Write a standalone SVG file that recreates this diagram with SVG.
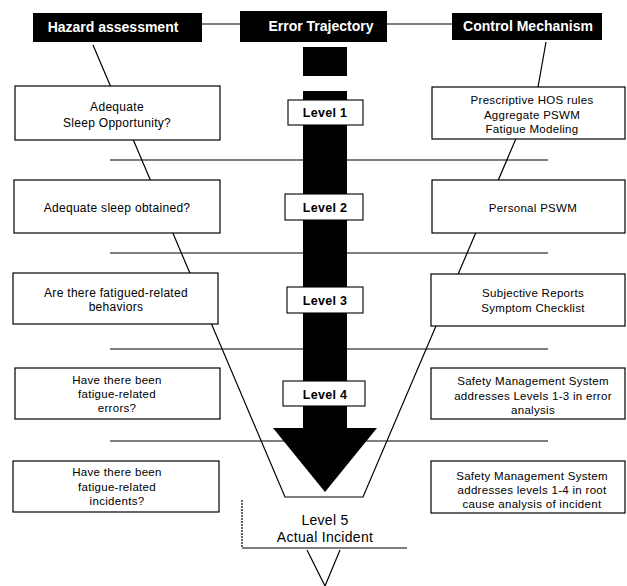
<svg xmlns="http://www.w3.org/2000/svg" width="627" height="586" viewBox="0 0 627 586">
  <style>
    .hdr { fill: #000; }
    .hdr-t { fill: #fff; font-family: "Liberation Sans", Arial, sans-serif; font-weight: bold; font-size: 14px; text-anchor: middle; }
    .box { fill: #fff; stroke: #000; stroke-width: 1.2; }
    .lvl { fill: #fff; stroke: #000; stroke-width: 1.1; }
    .t { fill: #000; font-family: "Liberation Sans", Arial, sans-serif; font-size: 11.5px; text-anchor: middle; letter-spacing: 0.3px; }
    .tl { fill: #000; font-family: "Liberation Sans", Arial, sans-serif; font-size: 12px; text-anchor: middle; letter-spacing: 0.3px; }
    .lv { fill: #000; font-family: "Liberation Sans", Arial, sans-serif; font-weight: bold; font-size: 12.5px; text-anchor: middle; letter-spacing: 0.3px; }
    .l5 { fill: #000; font-family: "Liberation Sans", Arial, sans-serif; font-size: 14px; text-anchor: middle; letter-spacing: 0.3px; }
    .ln { stroke: #000; stroke-width: 1.2; fill: none; }
  </style>

  <rect width="627" height="586" fill="#fff"/>

  <!-- connectors: header links, funnel sides, level dividers -->
  <g id="connectors">
    <line class="ln" x1="202" y1="24" x2="240" y2="24"/>
    <line class="ln" x1="387" y1="24" x2="452" y2="24"/>
    <line class="ln" x1="110" y1="160" x2="548" y2="160"/>
    <line class="ln" x1="110" y1="253" x2="548" y2="253"/>
    <line class="ln" x1="110" y1="349" x2="548" y2="349"/>
    <line class="ln" x1="110" y1="441" x2="548" y2="441"/>
    <polyline class="ln" points="93,45 285,497 363,497 538,87 546,42"/>
    <line class="ln" x1="242" y1="500" x2="242" y2="548" stroke-dasharray="2 1"/>
    <line class="ln" x1="242" y1="548" x2="407" y2="548"/>
    <polyline class="ln" points="307,550 325,586 340,550"/>
  </g>

  <!-- error trajectory arrow -->
  <g id="trajectory-arrow" fill="#000">
    <rect x="303" y="47" width="44" height="29"/>
    <rect x="303" y="91" width="44" height="8"/>
    <rect x="303" y="99" width="44" height="330"/>
    <polygon points="273,428 377,428 325,492"/>
  </g>

  <!-- column headers -->
  <g id="hazard-header">
    <rect class="hdr" x="33" y="13" width="169" height="29"/>
    <text class="hdr-t" x="113" y="32">Hazard assessment</text>
  </g>
  <g id="error-header">
    <rect class="hdr" x="240" y="11" width="147" height="31"/>
    <text class="hdr-t" x="321" y="31">Error Trajectory</text>
  </g>
  <g id="control-header">
    <rect class="hdr" x="452" y="13" width="150" height="27"/>
    <text class="hdr-t" x="528" y="31">Control Mechanism</text>
  </g>

  <!-- hazard assessment questions -->
  <g id="hazard-1">
    <rect class="box" x="15" y="86" width="205" height="54"/>
    <text class="tl" x="117" y="111">Adequate</text>
    <text class="tl" x="117" y="127">Sleep Opportunity?</text>
  </g>
  <g id="hazard-2">
    <rect class="box" x="14" y="180" width="206" height="53"/>
    <text class="tl" x="117" y="212">Adequate sleep obtained?</text>
  </g>
  <g id="hazard-3">
    <rect class="box" x="13" y="273" width="205" height="51"/>
    <text class="tl" x="116" y="297">Are there fatigued-related</text>
    <text class="tl" x="116" y="311">behaviors</text>
  </g>
  <g id="hazard-4">
    <rect class="box" x="15" y="368" width="205" height="51"/>
    <text class="t" x="117" y="384">Have there been</text>
    <text class="t" x="117" y="398">fatigue-related</text>
    <text class="t" x="117" y="412">errors?</text>
  </g>
  <g id="hazard-5">
    <rect class="box" x="13" y="461" width="206" height="51"/>
    <text class="t" x="117" y="476">Have there been</text>
    <text class="t" x="117" y="491">fatigue-related</text>
    <text class="t" x="117" y="505">incidents?</text>
  </g>

  <!-- trajectory levels -->
  <g id="level-1">
    <rect class="lvl" x="288" y="100" width="75" height="25"/>
    <text class="lv" x="325" y="117">Level 1</text>
  </g>
  <g id="level-2">
    <rect class="lvl" x="285" y="194" width="78" height="26"/>
    <text class="lv" x="325" y="212">Level 2</text>
  </g>
  <g id="level-3">
    <rect class="lvl" x="287" y="287" width="76" height="26"/>
    <text class="lv" x="325" y="305">Level 3</text>
  </g>
  <g id="level-4">
    <rect class="lvl" x="283" y="381" width="82" height="25"/>
    <text class="lv" x="325" y="399">Level 4</text>
  </g>
  <g id="level-5">
    <text class="l5" x="325" y="525">Level 5</text>
    <text class="l5" x="325" y="542">Actual Incident</text>
  </g>

  <!-- control mechanisms -->
  <g id="control-1">
    <rect class="box" x="432" y="87" width="193" height="52"/>
    <text class="t" x="532" y="104">Prescriptive HOS rules</text>
    <text class="t" x="532" y="119">Aggregate PSWM</text>
    <text class="t" x="532" y="133">Fatigue Modeling</text>
  </g>
  <g id="control-2">
    <rect class="box" x="432" y="180" width="193" height="53"/>
    <text class="t" x="533" y="212">Personal PSWM</text>
  </g>
  <g id="control-3">
    <rect class="box" x="431" y="274" width="194" height="52"/>
    <text class="t" x="533" y="297">Subjective Reports</text>
    <text class="t" x="533" y="312">Symptom Checklist</text>
  </g>
  <g id="control-4">
    <rect class="box" x="431" y="368" width="194" height="51"/>
    <text class="t" x="533" y="385">Safety Management System</text>
    <text class="t" x="533" y="400">addresses Levels 1-3  in error</text>
    <text class="t" x="533" y="414">analysis</text>
  </g>
  <g id="control-5">
    <rect class="box" x="431" y="461" width="194" height="52"/>
    <text class="t" x="532" y="480">Safety Management System</text>
    <text class="t" x="532" y="494">addresses levels 1-4 in root</text>
    <text class="t" x="532" y="508">cause analysis of incident</text>
  </g>
</svg>
